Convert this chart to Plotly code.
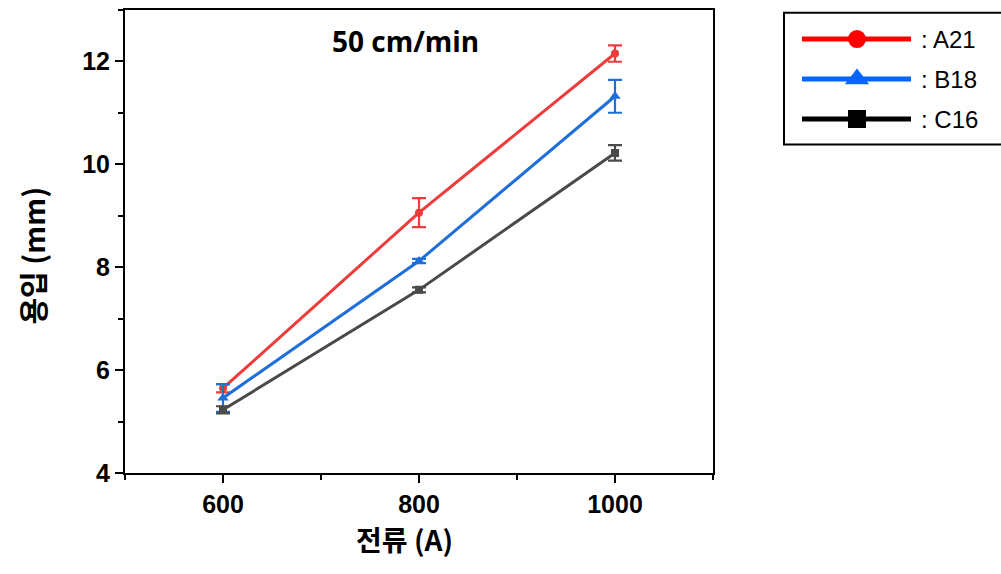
import plotly.graph_objects as go

W, H = 1001, 574

current = [600, 800, 1000]
series_names = ["A21", "B18", "C16"]
a21 = [5.65, 9.06, 12.15]
a21_err = [0.08, 0.28, 0.16]
b18 = [5.46, 8.12, 11.32]
b18_err = [0.27, 0.04, 0.32]
c16 = [5.23, 7.56, 10.22]
c16_err = [0.07, 0.05, 0.15]

x_ticks = [600, 800, 1000]
y_ticks = [4, 6, 8, 10, 12]

plot_colors = ["#EE3B3B", "#1F6FDA", "#4A4A4A"]
legend_colors = ["#FF0000", "#0066FF", "#000000"]
symbols = ["circle", "triangle-up", "square"]
marker_sizes = [8, 10, 8]

fig = go.Figure()

vals = [a21, b18, c16]
errs = [a21_err, b18_err, c16_err]
for name, v, e, c, s, ms in zip(series_names, vals, errs, plot_colors, symbols, marker_sizes):
    fig.add_trace(go.Scatter(
        x=current, y=v, mode="lines+markers", name=name, showlegend=False,
        line=dict(color=c, width=3),
        marker=dict(symbol=s, size=ms, color=c),
        error_y=dict(type="data", array=e, visible=True, color=c, thickness=2.2, width=7),
        xaxis="x", yaxis="y",
    ))

# Manual legend (in its own small axes, pixel-like coordinates)
legend_rows = [40, 81, 122]
for name, c, s, ry in zip(series_names, legend_colors, symbols, legend_rows):
    fig.add_trace(go.Scatter(
        x=[802, 911], y=[ry, ry], mode="lines", showlegend=False,
        line=dict(color=c, width=5), xaxis="x2", yaxis="y2", hoverinfo="skip",
    ))
    fig.add_trace(go.Scatter(
        x=[857], y=[ry], mode="markers", showlegend=False,
        marker=dict(symbol=s, size=18 if s != "triangle-up" else 21, color=c),
        xaxis="x2", yaxis="y2", hoverinfo="skip",
    ))
    fig.add_annotation(
        x=919, y=ry, xref="x2", yref="y2", text=": " + name, showarrow=False,
        xanchor="left", yanchor="middle",
        font=dict(family="Liberation Sans, Arial", size=24, color="black"),
    )

tick_font = dict(family="Liberation Sans, Arial", size=25, color="black", weight="bold")

fig.update_layout(
    width=W, height=H,
    margin=dict(l=0, r=0, t=0, b=0),
    paper_bgcolor="white",
    plot_bgcolor="rgba(0,0,0,0)",
    xaxis=dict(
        domain=[125 / W, 713 / W], range=[500, 1100],
        tickmode="array", tickvals=x_ticks, ticktext=[str(t) for t in x_ticks],
        ticks="outside", ticklen=8, tickwidth=2, tickcolor="black",
        minor=dict(dtick=100, tick0=500, ticks="outside", ticklen=5, tickwidth=2, tickcolor="black"),
        showline=True, linewidth=2, linecolor="black", mirror=True,
        showgrid=False, zeroline=False, tickfont=tick_font, anchor="y",
    ),
    yaxis=dict(
        domain=[1 - 485 / H, 1 - 10 / H], range=[4, 13],
        tickmode="array", tickvals=y_ticks, ticktext=[str(t) for t in y_ticks],
        ticks="outside", ticklen=8, tickwidth=2, tickcolor="black",
        minor=dict(dtick=1, tick0=4, ticks="outside", ticklen=5, tickwidth=2, tickcolor="black"),
        showline=True, linewidth=2, linecolor="black", mirror=True,
        showgrid=False, zeroline=False, tickfont=tick_font, anchor="x",
    ),
    xaxis2=dict(domain=[783 / W, 1.0], range=[783, 1001], visible=False, fixedrange=True, anchor="y2"),
    yaxis2=dict(domain=[1 - 150 / H, 1 - 11 / H], range=[150, 11], visible=False, fixedrange=True, anchor="x2"),
    shapes=[dict(
        type="rect", xref="paper", yref="paper",
        x0=784 / W, x1=1.01, y0=1 - 148 / H, y1=1 - 13 / H,
        line=dict(color="black", width=2), fillcolor="rgba(0,0,0,0)",
    )],
)

fig.add_annotation(
    x=404 / W, y=1 - 552 / H, xref="paper", yref="paper", text="전류 (A)", showarrow=False,
    xanchor="center", yanchor="middle",
    font=dict(family="Noto Sans CJK KR", size=28, color="black", weight="bold"),
)
fig.add_annotation(
    x=32 / W, y=1 - 262 / H, xref="paper", yref="paper", text="용입 (mm)", showarrow=False,
    textangle=-90, xanchor="center", yanchor="middle",
    font=dict(family="Noto Sans CJK KR", size=29, color="black", weight="bold"),
)
fig.add_annotation(
    x=405 / W, y=1 - 42 / H, xref="paper", yref="paper", text="50 cm/min", showarrow=False,
    xanchor="center", yanchor="middle",
    font=dict(family="Open Sans", size=28, color="black", weight="bold"),
)

fig.write_html(
    "out.html",
    config={"displayModeBar": False},
    post_script="document.body.style.margin='0';document.documentElement.style.overflow='hidden';",
)
